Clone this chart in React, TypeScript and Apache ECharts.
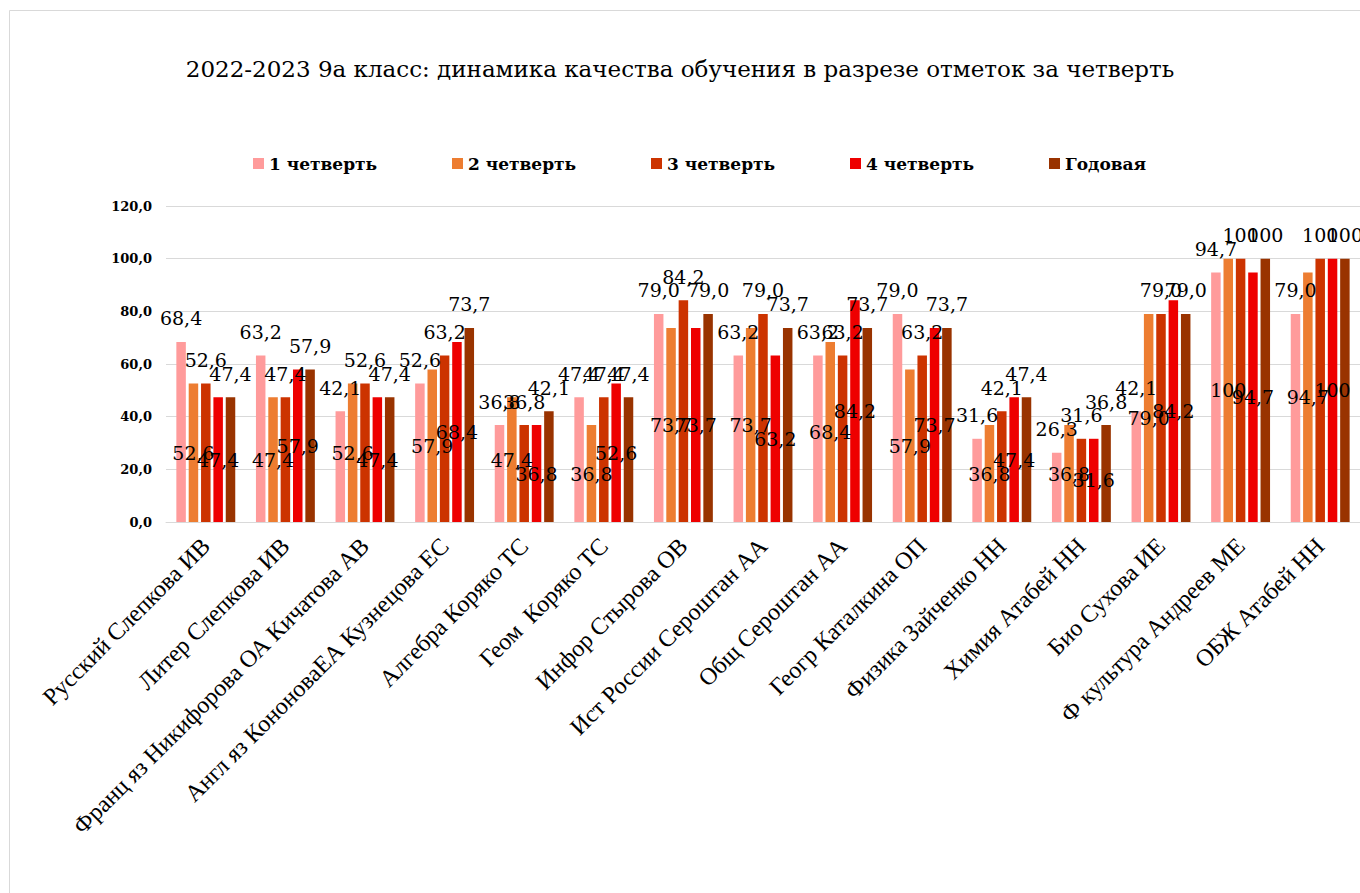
import React, { useEffect, useRef } from "react";
import * as echarts from "echarts";

const TITLE = "2022-2023 9а класс: динамика качества обучения в разрезе отметок за четверть";

const categories = [
  "Русский Слепкова ИВ",
  "Литер Слепкова ИВ",
  "Франц яз Никифорова ОА Кичатова АВ",
  "Англ яз КононоваЕА Кузнецова ЕС",
  "Алгебра Коряко ТС",
  "Геом  Коряко ТС",
  "Инфор Стырова ОВ",
  "Ист России Сероштан АА",
  "Общ Сероштан АА",
  "Геогр Каталкина ОП",
  "Физика Зайченко НН",
  "Химия Атабей НН",
  "Био Сухова ИЕ",
  "Ф культура Андреев МЕ",
  "ОБЖ Атабей НН",
];

const seriesNames = ["1 четверть", "2 четверть", "3 четверть", "4 четверть", "Годовая"];

const q1 = [68.4, 63.2, 42.1, 52.6, 36.8, 47.4, 79.0, 63.2, 63.2, 79.0, 31.6, 26.3, 42.1, 94.7, 79.0];
const q2 = [52.6, 47.4, 52.6, 57.9, 47.4, 36.8, 73.7, 73.7, 68.4, 57.9, 36.8, 36.8, 79.0, 100, 94.7];
const q3 = [52.6, 47.4, 52.6, 63.2, 36.8, 47.4, 84.2, 79.0, 63.2, 63.2, 42.1, 31.6, 79.0, 100, 100];
const q4 = [47.4, 57.9, 47.4, 68.4, 36.8, 52.6, 73.7, 63.2, 84.2, 73.7, 47.4, 31.6, 84.2, 94.7, 100];
const year = [47.4, 57.9, 47.4, 73.7, 42.1, 47.4, 79.0, 73.7, 73.7, 73.7, 47.4, 36.8, 79.0, 100, 100];

const seriesData = [q1, q2, q3, q4, year];
const colors = ["#FF9B9B", "#ED7D31", "#CC3300", "#EE0000", "#993300"];
// label placement as in the reference: outside end for 1,3,5; centered for 2,4
const labelOnTop = [true, false, true, false, true];

const fmtVal = (v: number) => (v === 100 ? "100" : v.toFixed(1).replace(".", ","));

export default function App() {
  const ref = useRef<HTMLDivElement>(null);
  useEffect(() => {
    if (!ref.current) return;
    const chart = echarts.init(ref.current, undefined, { renderer: "svg" });
    const serif = "'DejaVu Serif', serif";
    chart.setOption({
      animation: false,
      backgroundColor: "#ffffff",
      title: {
        text: TITLE,
        left: "center",
        top: 52,
        textStyle: {
          fontFamily: serif,
          fontSize: 23,
          fontWeight: "normal",
          color: "#000",
        },
      },
      legend: seriesNames.map((name, i) => ({
        left: 253 + i * 199,
        top: 155,
        padding: 0,
        itemWidth: 11,
        itemHeight: 11,
        icon: "rect",
        textStyle: {
          fontFamily: serif,
          fontSize: 17,
          fontWeight: "bold",
          color: "#000",
        },
        data: [name],
      })),
      graphic: [
        {
          type: "rect",
          shape: { x: 9.5, y: 10.5, width: 1500, height: 1000 },
          style: { fill: "none", stroke: "#d9d9d9", lineWidth: 1 },
          silent: true,
        },
      ],
      grid: {
        left: 166,
        top: 206,
        width: 1200,
        height: 316,
        containLabel: false,
      },
      xAxis: {
        type: "category",
        data: categories,
        axisTick: { show: false },
        axisLine: { lineStyle: { color: "#d9d9d9", width: 1 } },
        axisLabel: {
          interval: 0,
          rotate: 45,
          margin: 20,
          fontFamily: "'Liberation Serif', serif",
          fontSize: 24,
          color: "#000",
        },
      },
      yAxis: {
        type: "value",
        min: 0,
        max: 120,
        interval: 20,
        axisLine: { show: false },
        axisTick: { show: false },
        splitLine: { lineStyle: { color: "#d9d9d9", width: 1 } },
        axisLabel: {
          formatter: (v: number) => v.toFixed(1).replace(".", ","),
          fontFamily: serif,
          fontSize: 13,
          fontWeight: "bold",
          color: "#000",
          margin: 14,
        },
      },
      series: seriesData.map((d, i) => ({
        name: seriesNames[i],
        type: "bar",
        data: d,
        barWidth: 9.5,
        barGap: "30%",
        itemStyle: { color: colors[i] },
        label: {
          show: true,
          position: labelOnTop[i] ? "top" : "inside",
          distance: labelOnTop[i] ? 14 : 0,
          offset: labelOnTop[i] ? [0, 0] : [0, 4],
          formatter: (p: any) => fmtVal(p.value),
          fontFamily: serif,
          fontSize: 19,
          color: "#000",
          textBorderWidth: 0,
        },
        labelLayout: { hideOverlap: false },
      })),
    });
    return () => chart.dispose();
  }, []);
  return (
    <div
      ref={ref}
      style={{ position: "absolute", left: 0, top: 0, width: 1360, height: 893, background: "#fff" }}
    />
  );
}
